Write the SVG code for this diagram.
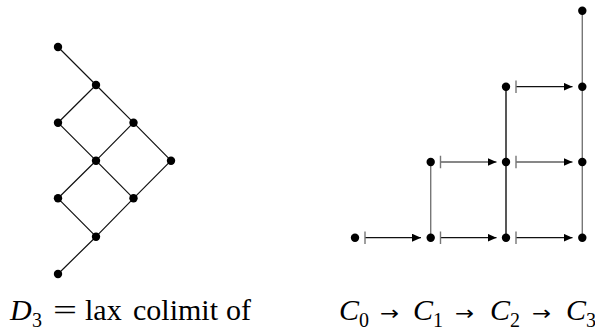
<svg xmlns="http://www.w3.org/2000/svg" width="595" height="331" viewBox="0 0 595 331">
<style>
.e{stroke:#111;stroke-width:1.2;fill:none}
.g{stroke:#777;stroke-width:1.4;fill:none}
.k{stroke:#111;stroke-width:1.4;fill:none}
.s{stroke:#111;stroke-width:1.2;fill:none}
.b{stroke:#777;stroke-width:1.4}
.n{fill:#000}
.t{font-family:"Liberation Serif",serif;font-size:30px;fill:#000}
.i{font-style:italic}
.sub{font-family:"Liberation Serif",serif;font-size:20px;fill:#000}
.ar{font-family:"DejaVu Sans",sans-serif;font-size:20px;fill:#000}
</style>
<defs>
<marker id="ah" markerWidth="9" markerHeight="8" refX="9" refY="4" orient="auto" markerUnits="userSpaceOnUse"><path d="M0,0 L9,4 L0,8 Z" fill="#000"/></marker>
</defs>
<g id="connectors">
<path class="e" d="M58,47 L96,85 M96,85 L58,122.7 M96,85 L133.5,122.7 M58,122.7 L96,160.7 M133.5,122.7 L96,160.7 M133.5,122.7 L171,160.7 M96,160.7 L58,198.3 M96,160.7 L133.5,198.3 M171,160.7 L133.5,198.3 M58,198.3 L96,236.7 M133.5,198.3 L96,236.7 M96,236.7 L58,274"/>
<path class="g" d="M430.7,162 V237.7 M582.3,10.7 V237.7"/>
<path class="k" d="M506,86.7 V237.7"/>
<g class="s" marker-end="url(#ah)">
<line x1="365" y1="237.7" x2="421" y2="237.7"/>
<line x1="440.5" y1="237.7" x2="496.5" y2="237.7"/>
<line x1="516" y1="237.7" x2="572.5" y2="237.7"/>
<line x1="440.5" y1="162" x2="496.5" y2="162"/>
<line x1="516" y1="162" x2="572.5" y2="162"/>
<line x1="516" y1="86.7" x2="572.5" y2="86.7"/>
</g>
<path class="b" d="M365,231.5 V243.9 M440.5,231.5 V243.9 M516,231.5 V243.9 M440.5,155.8 V168.2 M516,155.8 V168.2 M516,80.5 V92.9"/>
</g>
<g id="left-nodes" class="n">
<circle id="l1" cx="58" cy="47" r="4.2"/>
<circle id="l2" cx="96" cy="85" r="4.2"/>
<circle id="l3" cx="58" cy="122.7" r="4.2"/>
<circle id="l4" cx="133.5" cy="122.7" r="4.2"/>
<circle id="l5" cx="96" cy="160.7" r="4.2"/>
<circle id="l6" cx="171" cy="160.7" r="4.2"/>
<circle id="l7" cx="58" cy="198.3" r="4.2"/>
<circle id="l8" cx="133.5" cy="198.3" r="4.2"/>
<circle id="l9" cx="96" cy="236.7" r="4.2"/>
<circle id="l10" cx="58" cy="274" r="4.2"/>
</g>
<g id="right-nodes" class="n">
<circle id="r1" cx="355" cy="237.7" r="4.2"/>
<circle id="r2" cx="430.7" cy="237.7" r="4.2"/>
<circle id="r3" cx="430.7" cy="162" r="4.2"/>
<circle id="r4" cx="506" cy="237.7" r="4.2"/>
<circle id="r5" cx="506" cy="162" r="4.2"/>
<circle id="r6" cx="506" cy="86.7" r="4.2"/>
<circle id="r7" cx="582.3" cy="237.7" r="4.2"/>
<circle id="r8" cx="582.3" cy="162" r="4.2"/>
<circle id="r9" cx="582.3" cy="86.7" r="4.2"/>
<circle id="r10" cx="582.3" cy="10.7" r="4.2"/>
</g>
<g id="label-left">
<text class="t" y="320"><tspan class="i" x="10">D</tspan><tspan class="sub" x="32" y="327">3</tspan><tspan x="53" y="320" textLength="24" lengthAdjust="spacingAndGlyphs">=</tspan><tspan x="85">lax</tspan><tspan x="133">colimit</tspan><tspan x="226">of</tspan></text>
</g>
<g id="label-right">
<text class="t" y="320"><tspan class="i" x="339">C</tspan><tspan class="sub" x="359" y="327">0</tspan><tspan class="ar" x="380" y="320" textLength="19" lengthAdjust="spacingAndGlyphs">→</tspan><tspan class="i" x="413" y="320">C</tspan><tspan class="sub" x="433" y="327">1</tspan><tspan class="ar" x="455" y="320" textLength="19" lengthAdjust="spacingAndGlyphs">→</tspan><tspan class="i" x="490" y="320">C</tspan><tspan class="sub" x="510" y="327">2</tspan><tspan class="ar" x="532" y="320" textLength="19" lengthAdjust="spacingAndGlyphs">→</tspan><tspan class="i" x="566" y="320">C</tspan><tspan class="sub" x="586" y="327">3</tspan></text>
</g>
</svg>
